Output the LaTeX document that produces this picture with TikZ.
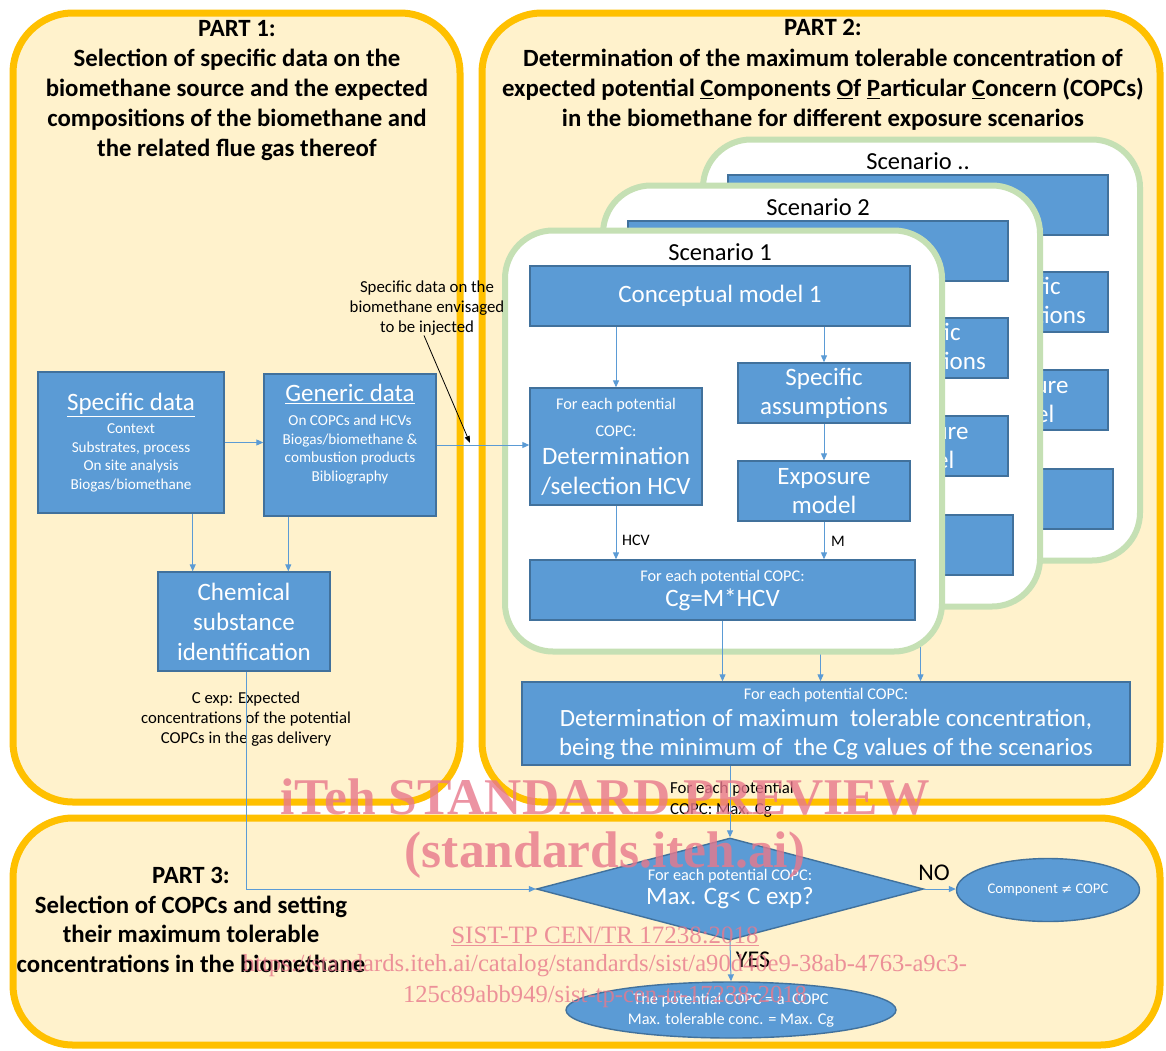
\documentclass[tikz,border=0pt]{standalone}
\usepackage{fontspec}
\setmainfont{Carlito}
\newfontfamily\wmfont{Liberation Serif}
\newfontfamily\symfont{DejaVu Sans}
\usetikzlibrary{arrows.meta,shapes.geometric}
\definecolor{partfill}{HTML}{FFF2CC}
\definecolor{partline}{HTML}{FFC000}
\definecolor{scline}{HTML}{C5E0B4}
\definecolor{boxfill}{HTML}{5B9BD5}
\definecolor{boxline}{HTML}{41719C}
\definecolor{wmcol}{HTML}{E8788C}
\newcommand{\fs}[2]{\fontsize{#1}{#2}\selectfont}
\begin{document}
\begin{tikzpicture}[x=1pt,y=-1pt,
  partbox/.style={draw=partline,line width=7pt,fill=partfill,rounded corners=60pt,inner sep=0pt},
  scenbox/.style={draw=scline,line width=6pt,fill=white,rounded corners=48pt,inner sep=0pt,minimum width=437pt,minimum height=421pt},
  bbox/.style={draw=boxline,line width=1.4pt,fill=boxfill,text=white,align=center,inner sep=0pt},
  txt/.style={align=center,inner sep=0pt},
  conn/.style={draw=boxfill,line width=1pt,-{Triangle[length=7pt,width=6pt]}},
  lbl/.style={font=\fs{16}{19},inner sep=0pt},
  wm/.style={text=wmcol,opacity=0.8,inner sep=0pt,align=center}]
\useasboundingbox (0,0) rectangle (1166,1050);
\fill[white] (0,0) rectangle (1166,1050);

% parts
\node[partbox,minimum width=447pt,minimum height=789pt] (part1) at (236.5,407.5) {};
\node[partbox,minimum width=678pt,minimum height=789pt] (part2) at (821,407.5) {};
\node[partbox,minimum width=1147pt,minimum height=227pt] (part3) at (586.5,931.5) {};

\node[txt,font=\fs{24.8}{30}\bfseries] (p1title) at (237,91) {PART 1:\\Selection of specific data on the\\biomethane source and the expected\\compositions of the biomethane and\\the related flue gas thereof};
\node[txt,font=\fs{24.8}{30.3}\bfseries] (p2title) at (823,75) {PART 2:\\Determination of the maximum tolerable concentration of\\expected potential \underline{C}omponents \underline{O}f \underline{P}articular \underline{C}oncern (COPCs)\\in the biomethane for different exposure scenarios};
\node[txt,font=\fs{24.8}{29.5}\bfseries] (p3title) at (191,920) {PART 3:\\Selection of COPCs and setting\\their maximum tolerable\\concentrations in the biomethane};

% final box
\node[bbox,minimum width=608pt,minimum height=83pt,font=\fs{16.3}{27}] (final) at (826,723.5) {For each potential COPC:\\{\fs{24.8}{27}Determination of maximum\ \ tolerable concentration,}\\[2pt]{\fs{24.8}{27}being the minimum of\ \ the Cg values of the scenarios}};

% back scenarios
\foreach \dx/\dy/\lab/\k in {198/-91/../3, 98/-45/2/2}{
 \begin{scope}[shift={(\dx,\dy)}]
  \node[scenbox] (sc\k) at (723.5,441) {};
  \node[txt,font=\fs{24.5}{26}] (sct\k) at (720,252) {Scenario \lab};
  \node[bbox,minimum width=380pt,minimum height=60pt] (cm\k) at (720,296) {};
  \node[bbox,minimum width=172pt,minimum height=60pt,font=\fs{25}{29}] (sa\k) at (824,393) {Specific\\assumptions};
  \node[bbox,minimum width=172pt,minimum height=60pt,font=\fs{25}{29}] (em\k) at (824,491) {Exposure\\model};
  \node[bbox,minimum width=385pt,minimum height=60pt] (cg\k) at (722.5,590) {};
  \draw[conn] (cg\k.south) -- (cg\k.south |- final.north);
 \end{scope}
}

% scenario 1
\node[scenbox] (sc1) at (723.5,441) {};
\node[txt,font=\fs{24.5}{26}] (sct1) at (720,252) {Scenario 1};
\node[bbox,minimum width=380pt,minimum height=60pt,font=\fs{25}{28}] (cm1) at (720,296) {Conceptual model 1};
\node[bbox,minimum width=172pt,minimum height=117pt,font=\fs{16.3}{28}] (det1) at (616,446.5) {For each potential\\[-1pt]COPC:\\{\fs{25}{28}Determination}\\[2pt]{\fs{25}{28}/selection HCV}};
\node[bbox,minimum width=172pt,minimum height=60pt,font=\fs{25}{29}] (sa1) at (824,393) {Specific\\assumptions};
\node[bbox,minimum width=172pt,minimum height=60pt,font=\fs{25}{29}] (em1) at (824,491) {Exposure\\model};
\node[bbox,minimum width=385pt,minimum height=60pt,font=\fs{16.3}{25}] (cg1) at (722.5,590) {For each potential COPC:\\{\fs{25}{25}Cg=M*HCV}};
\draw[conn] (det1.north |- cm1.south) -- (det1.north);
\draw[conn] (sa1.north |- cm1.south) -- (sa1.north);
\draw[conn] (sa1.south) -- (em1.north);
\draw[conn] (det1.south) -- (det1.south |- cg1.north);
\draw[conn] (em1.south) -- (em1.south |- cg1.north);
\node[lbl] (hcvlbl) at (636,540) {HCV};
\node[lbl] (mlbl) at (838,541) {M};
\draw[conn] (cg1.south) -- (cg1.south |- final.north);

% part 1 boxes
\node[bbox,minimum width=186pt,minimum height=141pt,font=\fs{15.2}{18.5}] (spec) at (131,442.5) {{\fs{25}{18.5}\underline{Specific data}}\\[4.5pt]Context\\Substrates, process\\On site analysis\\Biogas/biomethane};
\node[bbox,minimum width=172pt,minimum height=142pt] (gen) at (350,445) {};
\node[txt,text=white,font=\fs{15.2}{18.5}] (gentxt) at (350,434) {{\fs{25}{18.5}\underline{Generic data}}\\[5.5pt]On COPCs and HCVs\\Biogas/biomethane \&\\combustion products\\Bibliography};
\node[bbox,minimum width=172pt,minimum height=99pt,font=\fs{25}{30}] (chem) at (244,621.5) {Chemical\\substance\\identification};

\node[txt,font=\fs{16.8}{20}] (annot) at (427,308) {Specific data on the\\biomethane envisaged\\to be injected};
\coordinate (injtip) at (470,443);
\node[txt,font=\fs{16.7}{20}] (cexp) at (246,719) {C exp: Expected\\concentrations of the potential\\COPCs in the gas delivery};

% part 3
\node[bbox,diamond,aspect=3.8,minimum width=387pt,minimum height=102pt,font=\fs{16.3}{24}] (dia) at (730,889) {For each potential COPC:\\{\fs{25}{24}Max. Cg< C exp?}};
\node[bbox,ellipse,minimum width=183pt,minimum height=63pt,font=\fs{14.7}{16}] (noell) at (1048,890) {Component {\symfont\fs{13}{16}≠} COPC};
\node[bbox,ellipse,minimum width=330pt,minimum height=56pt,font=\fs{16.3}{20}] (yesell) at (731,1010) {The potential COPC = a\ \ COPC\\Max. tolerable conc. = Max. Cg};
\node[txt,font=\fs{24}{26}] (nolbl) at (934,873) {NO};
\node[txt,font=\fs{24}{26}] (yeslbl) at (753,960) {YES};
\node[txt,align=left,anchor=west,font=\fs{16.8}{21}] (maxlbl) at (670,800) {For each potential\\COPC: Max. Cg};

% connectors
\draw[conn] (spec.east) -- (spec.east -| gen.west);
\draw[conn] ([xshift=-32pt]spec.south east) -- ([xshift=-32pt]spec.south east |- chem.north);
\draw[conn] ([xshift=25pt]gen.south west) -- ([xshift=25pt]gen.south west |- chem.north);
\draw[conn] (gen.east) -- (gen.east -| det1.west);
\draw[black,line width=0.8pt,-{Triangle[length=7pt,width=5pt]}] ([xshift=-3pt]annot.south) -- (injtip);
\draw[conn] ([xshift=2pt]chem.south) |- (dia.west);
\draw[conn] (dia.north |- final.south) -- (dia.north);
\draw[conn] (dia.east) -- (dia.east -| noell.west);
\draw[conn] (dia.south) -- (yesell.north);

% watermark
\node[wm,font=\wmfont\bfseries\fs{51.5}{56}] (wm1) at (605,797) {iTeh STANDARD PREVIEW};
\node[wm,font=\wmfont\bfseries\fs{51.5}{56}] (wm2) at (605,855) {(standards.iteh.ai)};
\node[wm,font=\wmfont\fs{25}{28}] (wm3) at (605,936) {\underline{SIST-TP CEN/TR 17238:2018}};
\node[wm,font=\wmfont\fs{24.6}{30.5}] (wm4) at (605,981) {https://standards.iteh.ai/catalog/standards/sist/a90d40e9-38ab-4763-a9c3-\\125c89abb949/sist-tp-cen-tr-17238-2018};
\end{tikzpicture}
\end{document}
